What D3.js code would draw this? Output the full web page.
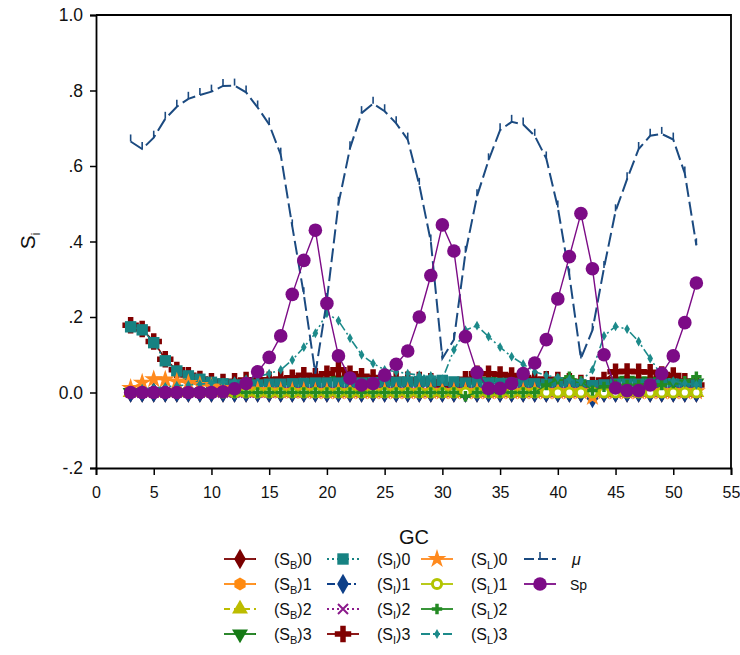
<!DOCTYPE html>
<html><head><meta charset="utf-8">
<script src="https://cdn.jsdelivr.net/npm/d3@7"></script>
<style>body{margin:0;background:#fff} text{font-family:"Liberation Sans",Arial,sans-serif}</style>
</head><body><svg id="c" width="740" height="655"></svg>
<script>
const gc  = [3,4,5,6,7,8,9,10,11,12,13,14,15,16,17,18,19,20,21,22,23,24,25,26,27,28,29,30,31,32,33,34,35,36,37,38,39,40,41,42,43,44,45,46,47,48,49,50,51,52];
const sB0 = [0,0,0,0,0,0,0,0,0,0,0,0,0,0,0,0,0,0,0,0,0,0,0,0,0,0,0,0,0,0,0,0,0,0,0,0,0,0,0,0,0,0,0,0,0,0,0,0,0,0];
const sB1 = [0,0,0,0,0,0,0,0,0,0,0,0,0,0,0,0,0,0,0,0,0,0,0,0,0,0,0,0,0,0,0,0,0,0,0,0,0,0,0,0,-0.01,0,0,0,0,0,0,0,0,0];
const sB2 = [0,0,0,0,0,0,0,0,0,0,0,0,0,0,0,0,0,0,0,0,0,0,0,0,0,0,0,0,0,0,0,0,0,0,0,0,0,0,0,0,0,0,0,0,0,0,0,0,0,0];
const sB3 = [0,0,0,0,0,0,0,0,0,0,0.01,0.02,0.02,0.02,0.022,0.025,0.025,0.03,0.033,0.03,0.025,0.022,0.02,0.02,0.02,0.02,0.02,0.015,0.01,0.02,0.025,0.03,0.028,0.025,0.022,0.02,0.02,0.02,0.02,0.015,0.005,0.02,0.03,0.032,0.03,0.03,0.028,0.025,0.025,0.025];
const sI0 = [0.174,0.166,0.132,0.084,0.057,0.044,0.035,0.027,0.023,0.02,0.02,0.02,0.022,0.022,0.023,0.024,0.025,0.025,0.025,0.025,0.025,0.026,0.026,0.027,0.028,0.029,0.03,0.032,0.028,0.025,0.025,0.025,0.024,0.024,0.024,0.023,0.022,0.022,0.021,0.02,0.018,0.02,0.022,0.022,0.022,0.022,0.022,0.022,0.021,0.02];
const sI1 = [0,0,0,0,0,0,0,0,0,0,0,0,0,0,0,0,0,0,0,0,0,0,0,0,0,0,0,0,0,0,0,0,0,0,0,0,0,0,0,0,-0.015,0,0,0,0,0,0,0,0,0];
const sI2 = [0,0,0,0,0,0,0,0,0,0,0,0,0,0,0,0,0,0,0,0,0,0,0,0,0,0,0,0,0,0,0,0,0,0,0,0,0,0,0,0,0,0,0,0,0,0,0,0,0,0];
const sI3 = [0.178,0.168,0.135,0.088,0.06,0.046,0.036,0.03,0.028,0.03,0.033,0.034,0.034,0.036,0.039,0.046,0.043,0.05,0.06,0.05,0.043,0.04,0.036,0.035,0.034,0.033,0.03,0.02,0.015,0.035,0.05,0.05,0.048,0.045,0.04,0.035,0.035,0.033,0.03,0.025,0.02,0.033,0.055,0.056,0.055,0.054,0.048,0.045,0.03,0.02];
const sL0 = [0.012,0.026,0.035,0.034,0.029,0.025,0.02,0.016,0.012,0.01,0.008,0.006,0.005,0.004,0.004,0.004,0.003,0.003,0.003,0.003,0.003,0.003,0.003,0.003,0.003,0.003,0.003,0.003,0.003,0.003,0.003,0.003,0.003,0.003,0.003,0.003,0.003,0.003,0.003,0.003,-0.012,0.003,0.003,0.003,0.003,0.003,0.003,0.003,0.003,0.003];
const sL1 = [0,0,0,0,0,0,0,0,0,0,0,0,0,0,0,0,0,0,0,0,0,0,0,0,0,0,0,0,0,0,0,0,0,0,0,0,0,0,0,0,0,0,0,0,0,0,0,0,0,0];
const sL2 = [0,0,0,0,0,0,0,0,0,0,0,0,0,0,0,0,0,0,0,0,0,0,0,0,0,0,0,0,0,-0.01,0,0,0,0,0,0,0.02,0.035,0.042,0.03,0.005,0.015,0.02,0.02,0.02,0.025,0.02,0.025,0.03,0.042];
const sL3 = [0.005,0.01,0.012,0.015,0.018,0.02,0.022,0.025,0.027,0.03,0.035,0.042,0.05,0.06,0.086,0.12,0.157,0.21,0.19,0.144,0.1,0.077,0.06,0.055,0.05,0.046,0.044,0.035,0.113,0.165,0.177,0.148,0.12,0.095,0.075,0.055,0.045,0.04,0.035,0.03,0.06,0.15,0.175,0.168,0.135,0.09,0.045,0.03,0.025,0.02];
const mu  = [0.665,0.645,0.675,0.725,0.757,0.778,0.788,0.797,0.812,0.813,0.795,0.755,0.71,0.63,0.44,0.26,0.05,0.245,0.5,0.647,0.74,0.765,0.745,0.713,0.67,0.55,0.4,0.09,0.14,0.37,0.52,0.615,0.695,0.717,0.71,0.68,0.62,0.49,0.31,0.09,0.165,0.33,0.48,0.565,0.645,0.68,0.685,0.67,0.58,0.39];
const sp  = [0,0,0,0,0,0,0,0,0.002,0.01,0.024,0.055,0.093,0.15,0.26,0.35,0.43,0.236,0.097,0.038,0.02,0.024,0.046,0.075,0.11,0.2,0.31,0.444,0.375,0.148,0.053,0.011,0.011,0.024,0.05,0.078,0.14,0.248,0.36,0.474,0.328,0.1,0.012,0.005,0.005,0.02,0.05,0.097,0.185,0.29];

const xTicks = [0,5,10,15,20,25,30,35,40,45,50,55];
const yTicks = [-0.2,0,0.2,0.4,0.6,0.8,1.0];
const yTickLabels = ["-.2","0.0",".2",".4",".6",".8","1.0"];

const svg = d3.select("#c");
const x = d3.scaleLinear().domain([0,55]).range([96,731]);
const y = d3.scaleLinear().domain([-0.2,1.0]).range([468,15]);

function hexPath(r){let p=[];for(let i=0;i<6;i++){const a=Math.PI/6+i*Math.PI/3;p.push([r*Math.cos(a),r*Math.sin(a)]);}return "M"+p.map(q=>q.join(",")).join("L")+"Z";}
const M = {
  diamond:(s)=>d3.symbol(d3.symbolDiamond, s)(),
  square:(s)=>d3.symbol(d3.symbolSquare, s)(),
  tri:(s)=>d3.symbol(d3.symbolTriangle, s)(),
  cross:(s)=>d3.symbol(d3.symbolCross, s)(),
  star:(s)=>d3.symbol(d3.symbolStar, s)(),
  circle:(s)=>d3.symbol(d3.symbolCircle, s)(),
};

const series = [
  {name:"B0", data:sB0, color:"#7a0000", dash:null, marker:{type:"path", d:M.diamond(120)}},
  {name:"B1", data:sB1, color:"#ff8a10", dash:null, marker:{type:"path", d:hexPath(6.5)}},
  {name:"B2", data:sB2, color:"#bcbc00", dash:"6,4", marker:{type:"path", d:M.tri(110)}},
  {name:"B3", data:sB3, color:"#167a16", dash:null, marker:{type:"path", d:M.tri(110), rot:180}},
  {name:"I3", data:sI3, color:"#800000", dash:null, marker:{type:"path", d:M.cross(150)}},
  {name:"I0", data:sI0, color:"#168282", dash:"2,3", marker:{type:"path", d:M.square(130)}},
  {name:"I1", data:sI1, color:"#0d3f88", dash:"8,3,2,3", marker:{type:"path", d:M.diamond(120)}},
  {name:"I2", data:sI2, color:"#8b1a8b", dash:"2,3", marker:{type:"x"}},
  {name:"L0", data:sL0, color:"#ff8a1e", dash:null, marker:{type:"path", d:M.star(110)}},
  {name:"L1", data:sL1, color:"#b2c400", dash:null, marker:{type:"open"}},
  {name:"L2", data:sL2, color:"#238a23", dash:null, marker:{type:"path", d:M.cross(60)}},
  {name:"L3", data:sL3, color:"#1c8a8a", dash:"9,3,2,3,2,3", marker:{type:"path", d:M.diamond(28)}},
  {name:"mu", data:mu, color:"#1b4a80", dash:"14,5", marker:{type:"tick"}},
  {name:"sp", data:sp, color:"#7c0b86", dash:null, marker:{type:"path", d:M.circle(145)}},
];

function drawMarker(g, m, color){
  if(m.type==="path"){
    g.append("path").attr("d", m.d).attr("fill", color).attr("transform", m.rot?`rotate(${m.rot})`:null);
  } else if(m.type==="x"){
    g.append("path").attr("d","M-5,-5L5,5M-5,5L5,-5").attr("stroke",color).attr("stroke-width",2).attr("fill","none");
  } else if(m.type==="open"){
    g.append("circle").attr("r",4.6).attr("fill","#fff").attr("stroke",color).attr("stroke-width",3);
  } else if(m.type==="tick"){
    g.append("path").attr("d","M0,0V-7").attr("stroke",color).attr("stroke-width",1.6);
  }
}

const yAxis = d3.axisLeft(y).tickValues(yTicks).tickSize(6).tickPadding(7)
  .tickFormat((d,i)=>yTickLabels[i]);
const gy = svg.append("g").attr("transform","translate(96,0)").call(yAxis);
const xAxis = d3.axisBottom(x).tickValues(xTicks).tickSize(7).tickPadding(12);
const gx = svg.append("g").attr("transform","translate(0,468)").call(xAxis);
[gx,gy].forEach(g=>{
  g.select(".domain").attr("stroke","#000").attr("stroke-width",1.8);
  g.selectAll(".tick line").attr("stroke","#000").attr("stroke-width",1.5);
  g.selectAll(".tick text").attr("fill","#111").attr("font-family","Liberation Sans, Arial, sans-serif");
});
gx.selectAll(".tick text").attr("font-size",16);
gy.selectAll(".tick text").attr("font-size",17.5);
svg.append("path").attr("d",`M${x(0)},${y(1)}H${x(55)}V${y(-0.2)}`).attr("fill","none").attr("stroke","#000").attr("stroke-width",1.8);

const plot = svg.append("g");
series.forEach(s=>{
  const pts = gc.map((g,i)=>[g,s.data[i]]);
  const line = d3.line().x(d=>x(d[0])).y(d=>y(d[1]));
  plot.append("path").attr("d",line(pts)).attr("fill","none").attr("stroke",s.color)
    .attr("stroke-width",s.name==="mu"?2:(s.name==="sp"?1.4:1.6)).attr("stroke-dasharray",s.dash);
  pts.forEach(p=>{
    const g = plot.append("g").attr("transform",`translate(${x(p[0])},${y(p[1])})`);
    drawMarker(g, s.marker, s.color);
  });
});

svg.append("text").attr("x",414).attr("y",544).attr("text-anchor","middle").attr("font-size",20).attr("fill","#111").text("GC");
const yt = svg.append("text").attr("transform","translate(35,241) rotate(-90)").attr("text-anchor","middle").attr("font-size",21).attr("fill","#111");
yt.append("tspan").text("S");
yt.append("tspan").attr("font-size",12).attr("dy",5).text("i");

const legCols = [240,343,437,540];
const legRows = [559,584,609,634];
const legendItems = [
  {s:"B0",sub:"B",n:"0",c:0,r:0},{s:"B1",sub:"B",n:"1",c:0,r:1},{s:"B2",sub:"B",n:"2",c:0,r:2},{s:"B3",sub:"B",n:"3",c:0,r:3},
  {s:"I0",sub:"I",n:"0",c:1,r:0},{s:"I1",sub:"I",n:"1",c:1,r:1},{s:"I2",sub:"I",n:"2",c:1,r:2},{s:"I3",sub:"I",n:"3",c:1,r:3},
  {s:"L0",sub:"L",n:"0",c:2,r:0},{s:"L1",sub:"L",n:"1",c:2,r:1},{s:"L2",sub:"L",n:"2",c:2,r:2},{s:"L3",sub:"L",n:"3",c:2,r:3},
  {s:"mu",c:3,r:0},{s:"sp",c:3,r:1}
];
const leg = svg.append("g");
legendItems.forEach(it=>{
  const s = series.find(q=>q.name===it.s);
  const cx = legCols[it.c], cy = legRows[it.r];
  leg.append("line").attr("x1",cx-16).attr("x2",cx+16).attr("y1",cy).attr("y2",cy)
    .attr("stroke",s.color).attr("stroke-width",1.8).attr("stroke-dasharray",s.dash? (s.name==="mu"?"10,4":s.dash):null);
  const g = leg.append("g").attr("transform",`translate(${cx},${cy})`);
  drawMarker(g, s.marker, s.color);
  const t = leg.append("text").attr("x",cx+34).attr("y",cy+6).attr("font-size",16).attr("fill","#111");
  if(it.sub){
    t.append("tspan").text("(S");
    t.append("tspan").attr("font-size",11).attr("dy",4).text(it.sub);
    t.append("tspan").attr("dy",-4).text(")"+it.n);
  } else if(it.s==="mu"){
    t.attr("x",cx+32).attr("font-style","italic").text("μ");
  } else {
    t.attr("x",cx+30).attr("font-size",14).text("Sp");
  }
});
</script></body></html>
